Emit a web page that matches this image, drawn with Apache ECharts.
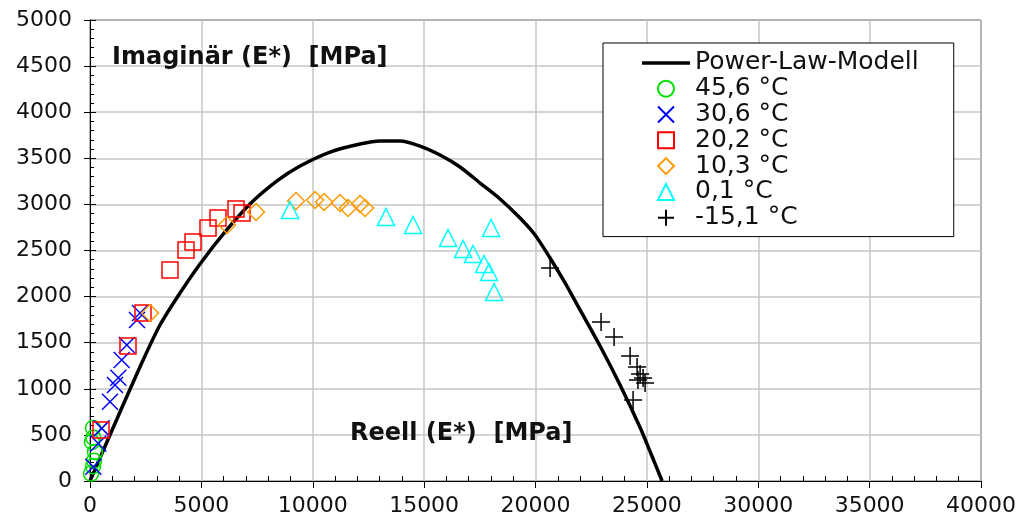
<!DOCTYPE html>
<html>
<head>
<meta charset="utf-8">
<script src="https://cdn.jsdelivr.net/npm/echarts@6/dist/echarts.min.js"></script>
<style>
html,body{margin:0;padding:0;background:#fff;}
#chart{width:1026px;height:524px;}
</style>
</head>
<body>
<div id="chart"></div>
<script>
// ---- data (Reell E*, Imaginär E*) in MPa ----
var seriesNames = ['Power-Law-Modell', '45,6 °C', '30,6 °C', '20,2 °C', '10,3 °C', '0,1 °C', '-15,1 °C'];
var xTickLabels = ['0','5000','10000','15000','20000','25000','30000','35000','40000'];
var yTickLabels = ['0','500','1000','1500','2000','2500','3000','3500','4000','4500','5000'];

var powerLaw = [[0,0],[584,325],[1347,748],[2380,1310],[3143,1692],[4041,2039],[4939,2354],[6062,2701],
  [7184,3004],[8396,3254],[9429,3416],[10776,3568],[12123,3655],[13021,3688],[13919,3688],[14817,3633],
  [15715,3536],[16613,3406],[17511,3232],[18409,3059],[19307,2852],[19981,2668],[20654,2419],
  [21328,2148],[22001,1855],[22899,1464],[23797,1041],[24705,575],[25189,293],[25683,0]];
var t45 = [[45,80],[135,160],[180,220],[225,315],[90,423],[150,470],[135,575]];
var t30 = [[150,155],[374,407],[524,571],[898,860],[1122,1041],[1271,1120],[1422,1312],[1654,1475],[2110,1746],[2245,1822]];
var t20 = [[494,553],[1706,1464],[2380,1822],[3592,2289],[4310,2505],[4625,2592],[5298,2744],[5747,2852],[6555,2950],[6825,2907]];
var t10 = [[2694,1822],[6151,2777],[7453,2918],[9249,3037],[10103,3048],[10507,3026],[11225,3015],[11584,2961],[12123,3004],[12348,2961]];
var t0 = [[8980,2939],[13290,2863],[14503,2777],[16074,2636],[16748,2516],[17197,2462],[17691,2354],[17915,2267],[18140,2050],[18005,2744]];
var tm15 = [[20654,2310],[22944,1724],[23528,1562],[24246,1356],[24561,1236],[24696,1160],[24830,1117],[24920,1063],[24600,1095],[24381,879]];

var FONT = 'DejaVu Sans';
var chart = echarts.init(document.getElementById('chart'), null, {renderer:'canvas'});

var circlePath = 'path://M16,8A8,8,0,1,1,0,8A8,8,0,1,1,16,8Z';
var rectPath = 'path://M0,0L16,0L16,16L0,16Z';
var diamondPath = 'path://M8,0L16,8L8,16L0,8Z';
var trianglePath = 'path://M8,0L16,16L0,16Z';
var crossPath = 'path://M0,0L16,16M16,0L0,16';
var plusPath = 'path://M8,0L8,16M0,8L16,8';
var linePath = 'path://M0,0L48,0L48,3.5L0,3.5Z';

function scatter(name, data, symbol, size, color){
  return {
    name: name, type: 'scatter', data: data, symbol: symbol, symbolSize: size,
    itemStyle: {color: 'none', borderColor: color, borderWidth: 1.5, opacity: 1},
    emphasis: {disabled: true}, z: 3
  };
}

var legendIcons = [linePath, circlePath, crossPath, rectPath, diamondPath, trianglePath, plusPath];

var option = {
  animation: false,
  backgroundColor: '#fff',
  grid: {left: 90, right: 45, top: 20, bottom: 43, show: true, borderColor: '#000', borderWidth: 1, backgroundColor: 'transparent'},
  xAxis: [{
    type: 'value', min: 0, max: 40000, interval: 5000, position: 'bottom',
    axisLine: {show: true, onZero: false, lineStyle: {color: '#000', width: 1}},
    axisTick: {show: true, inside: false, length: 7, lineStyle: {color: '#000'}},
    axisLabel: {fontFamily: FONT, fontSize: 22, color: '#111', margin: 14,
      formatter: function(v){ return xTickLabels[Math.round(v/5000)]; }},
    splitLine: {show: true, lineStyle: {color: '#c6c6c6', width: 1.5}}
  },{
    type: 'value', min: 0, max: 40000, interval: 5000, position: 'bottom',
    axisLine: {show: false}, axisLabel: {show: false}, splitLine: {show: false},
    axisTick: {show: false, inside: true},
    minorTick: {show: true, splitNumber: 5, length: 5, lineStyle: {color: '#000', width: 1}}
  }],
  yAxis: [{
    type: 'value', min: 0, max: 5000, interval: 500, position: 'left',
    axisLine: {show: true, onZero: false, lineStyle: {color: '#000', width: 1}},
    axisTick: {show: true, inside: false, length: 6, lineStyle: {color: '#000'}},
    axisLabel: {fontFamily: FONT, fontSize: 22, color: '#111', margin: 18,
      formatter: function(v){ return yTickLabels[Math.round(v/500)]; }},
    splitLine: {show: true, lineStyle: {color: '#c6c6c6', width: 1.5}}
  },{
    type: 'value', min: 0, max: 5000, interval: 500, position: 'left',
    axisLine: {show: false}, axisLabel: {show: false}, splitLine: {show: false},
    axisTick: {show: true, inside: true, length: 6, lineStyle: {color: '#000'}},
    minorTick: {show: true, splitNumber: 5, length: 4, lineStyle: {color: '#000', width: 1}}
  }],
  legend: {
    orient: 'vertical', left: 603, top: 43,
    padding: [7, 35, 6, 39],
    backgroundColor: '#fff', borderColor: '#000', borderWidth: 1,
    itemWidth: 48, itemHeight: 16, itemGap: 0,
    selectedMode: false, symbolKeepAspect: true,
    textStyle: {fontFamily: FONT, fontSize: 25, color: '#111', lineHeight: 25.8},
    data: seriesNames.map(function(n, i){ return {name: n, icon: legendIcons[i]}; })
  },
  series: [
    {name: seriesNames[0], type: 'line', data: powerLaw, showSymbol: false, symbol: 'none',
      smooth: 0.25,
      lineStyle: {color: '#000', width: 3.5}, itemStyle: {color: '#000'}, z: 2},
    scatter(seriesNames[1], t45, 'circle', 15, '#00e000'),
    scatter(seriesNames[2], t30, crossPath, 16, '#0000ff'),
    scatter(seriesNames[3], t20, 'rect', 16, '#ff0000'),
    scatter(seriesNames[4], t10, 'diamond', 17, '#ff9900'),
    scatter(seriesNames[5], t0, 'triangle', 17, '#00ffff'),
    scatter(seriesNames[6], tm15, plusPath, 18, '#000000')
  ],
  graphic: [
    {type: 'text', left: 112, top: 46, z: 10, style: {text: 'Imaginär (E*)  [MPa]', font: 'bold 24px "DejaVu Sans"', fill: '#111'}},
    {type: 'text', left: 350, top: 422, z: 10, style: {text: 'Reell (E*)  [MPa]', font: 'bold 24px "DejaVu Sans"', fill: '#111'}}
  ]
};
chart.setOption(option);
</script>
</body>
</html>
